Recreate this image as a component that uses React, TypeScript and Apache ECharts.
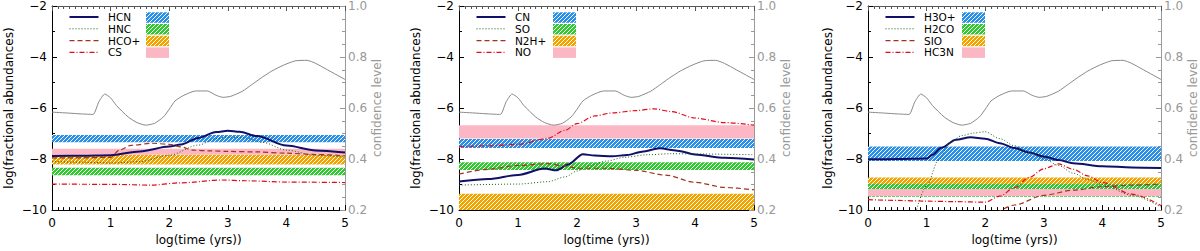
import React, { useEffect, useRef } from 'react';
import * as echarts from 'echarts';

// ---------------- data ----------------
const X_MIN = 0;
const X_MAX = 5;
const Y_MIN = -10;
const Y_MAX = -2;
const CONF_MIN = 0.2;
const CONF_MAX = 1.0;

// confidence level curve (right axis), identical in all three panels
const CONFIDENCE: [number, number][] = [
  [0, 0.584], [0.3, 0.58], [0.5, 0.577], [0.7, 0.575], [0.8, 0.625], [0.9, 0.655],
  [1.0, 0.64], [1.1, 0.61], [1.3, 0.565], [1.45, 0.543], [1.6, 0.533], [1.75, 0.54],
  [1.9, 0.565], [2.0, 0.595], [2.1, 0.628], [2.25, 0.65], [2.45, 0.667], [2.65, 0.667],
  [2.8, 0.65], [2.92, 0.642], [3.05, 0.646], [3.25, 0.666], [3.4, 0.69], [3.55, 0.715],
  [3.75, 0.745], [3.95, 0.768], [4.15, 0.785], [4.35, 0.787], [4.5, 0.775], [4.7, 0.75],
  [5.0, 0.712],
];

// Panel 1
const P1_NAMES = ['HCN', 'HNC', 'HCO+', 'CS'];
const HCN: [number, number][] = [
  [0, -7.88], [0.5, -7.87], [1, -7.85], [1.5, -7.7], [2, -7.51], [2.2, -7.43], [2.5, -7.17],
  [2.8, -6.94], [3, -6.89], [3.2, -6.93], [3.5, -7.1], [4, -7.47], [4.5, -7.66], [5, -7.74],
];
const HNC: [number, number][] = [
  [0, -8.1], [0.5, -8.12], [1, -8.15], [1.5, -8.1], [2, -7.85], [2.5, -7.45], [2.8, -7.2],
  [3, -7.14], [3.3, -7.17], [3.6, -7.35], [4, -7.65], [4.5, -7.85], [5, -7.92],
];
const HCO_PLUS: [number, number][] = [
  [0, -7.95], [0.5, -7.95], [1.0, -7.93], [1.15, -7.65], [1.35, -7.46], [1.7, -7.38],
  [2.0, -7.42], [2.2, -7.52], [2.4, -7.65], [2.7, -7.68], [3, -7.7], [3.5, -7.72],
  [4, -7.77], [4.5, -7.82], [5, -7.87],
];
const CS: [number, number][] = [
  [0, -8.98], [1, -8.99], [1.7, -9.02], [2.2, -8.93], [2.9, -8.82], [3.3, -8.85],
  [4, -8.9], [5, -8.92],
];
// observed bands [top, bottom] in legend order: blue, green, orange, pink
const P1_BANDS: [number, number][] = [[-7.06, -7.34], [-8.34, -8.63], [-7.83, -8.21], [-7.6, -7.83]];

// Panel 2
const P2_NAMES = ['CN', 'SO', 'N2H+', 'NO'];
const CN: [number, number][] = [
  [0, -8.88], [0.5, -8.78], [1, -8.62], [1.45, -8.37], [1.65, -8.44], [1.85, -8.21],
  [2.1, -7.81], [2.3, -7.86], [2.6, -7.89], [2.85, -7.84], [3.1, -7.71], [3.4, -7.58],
  [3.7, -7.67], [4, -7.82], [4.5, -7.95], [5, -8.02],
];
const SO: [number, number][] = [
  [0, -9.02], [1, -8.98], [1.5, -8.89], [1.8, -8.7], [2.0, -8.47], [2.2, -8.27],
  [2.5, -8.08], [2.8, -7.93], [3.2, -7.83], [3.6, -7.79], [4, -7.8], [5, -7.83],
];
const N2H_PLUS: [number, number][] = [
  [0, -8.59], [0.5, -8.4], [1.0, -8.25], [1.5, -8.18], [1.8, -8.27], [2.0, -8.36],
  [2.5, -8.36], [3.0, -8.44], [3.5, -8.63], [4.0, -8.91], [4.5, -9.11], [5, -9.21],
];
const NO: [number, number][] = [
  [0, -7.51], [0.5, -7.48], [1.0, -7.42], [1.5, -7.19], [1.8, -6.87], [2.0, -6.61],
  [2.3, -6.31], [2.6, -6.19], [3.0, -6.1], [3.3, -6.03], [3.6, -6.14], [4.0, -6.39],
  [4.5, -6.57], [5, -6.67],
];
const P2_BANDS: [number, number][] = [[-7.21, -7.57], [-8.12, -8.43], [-9.36, -10], [-6.67, -7.19]];

// Panel 3
const P3_NAMES = ['H3O+', 'H2CO', 'SIO', 'HC3N'];
const H3O_PLUS: [number, number][] = [
  [0, -8.01], [0.5, -8.0], [1.0, -7.98], [1.1, -7.83], [1.25, -7.56], [1.5, -7.24],
  [1.75, -7.14], [2.0, -7.2], [2.25, -7.38], [2.5, -7.57], [2.75, -7.74], [3.0, -7.9],
  [3.25, -8.04], [3.5, -8.16], [4, -8.28], [4.5, -8.33], [5, -8.35],
];
const H2CO: [number, number][] = [
  [0.8, -10.2], [1.0, -9.05], [1.2, -8.05], [1.4, -7.35], [1.6, -7.08], [1.8, -6.98],
  [2.0, -6.93], [2.25, -7.2], [2.5, -7.48], [2.75, -7.75], [3.0, -7.98], [3.25, -8.25],
  [3.5, -8.55], [3.75, -8.8], [4.0, -9.0], [4.5, -9.42], [5.0, -9.88],
];
const SIO: [number, number][] = [
  [2.2, -10.1], [2.5, -9.8], [3, -9.42], [3.5, -9.22], [4, -9.08], [4.5, -9.02], [5, -8.98],
];
const HC3N: [number, number][] = [
  [0, -9.59], [0.5, -9.62], [1, -9.65], [1.5, -9.67], [2, -9.69], [2.25, -9.45],
  [2.5, -9.12], [2.75, -8.72], [3, -8.38], [3.25, -8.19], [3.5, -8.4], [3.75, -8.66],
  [4, -8.92], [4.5, -9.37], [5, -9.82],
];
const P3_BANDS: [number, number][] = [[-7.51, -8.08], [-8.95, -9.48], [-8.72, -8.97], [-9.17, -9.45]];

const PANELS = [
  { names: P1_NAMES, data: [HCN, HNC, HCO_PLUS, CS], bands: P1_BANDS },
  { names: P2_NAMES, data: [CN, SO, N2H_PLUS, NO], bands: P2_BANDS },
  { names: P3_NAMES, data: [H3O_PLUS, H2CO, SIO, HC3N], bands: P3_BANDS },
];

// ---------------- layout / style ----------------
const FONT = 'DejaVu Sans, Verdana, sans-serif';
const GRID_LEFT = [52, 459, 868];
const GRID_WIDTH = [293, 295, 295];
const GRID_TOP = 5;
const GRID_HEIGHT = 208;
const Y_NAME_GAP = [37, 37, 34];

const LINE_STYLES = [
  { color: '#10106a', width: 2, type: 'solid' as any },
  { color: '#156015', width: 1, type: [1, 2] as any },
  { color: '#a0341e', width: 1.2, type: [5, 3] as any },
  { color: '#e30a1a', width: 1.2, type: [5, 2, 1, 2] as any },
];

function hatch(color: string): any {
  const n = 4;
  const c = document.createElement('canvas');
  c.width = n;
  c.height = n;
  const ctx = c.getContext('2d')!;
  ctx.fillStyle = color;
  ctx.fillRect(0, 0, n, n);
  ctx.strokeStyle = 'rgba(255,255,255,0.95)';
  ctx.lineWidth = 1;
  ctx.beginPath();
  ctx.moveTo(0, n);
  ctx.lineTo(n, 0);
  ctx.moveTo(-1, 1);
  ctx.lineTo(1, -1);
  ctx.moveTo(n - 1, n + 1);
  ctx.lineTo(n + 1, n - 1);
  ctx.stroke();
  return { image: c.toDataURL(), repeat: 'repeat', imageWidth: n, imageHeight: n };
}

function buildOption() {
  const bandFills = [hatch('#2b8fe6'), hatch('#35c635'), hatch('#f0a400'), '#fbb8c4'];
  const grid: any[] = [];
  const xAxis: any[] = [];
  const yAxis: any[] = [];
  const series: any[] = [];
  const graphic: any[] = [];

  PANELS.forEach((panel, p) => {
    grid.push({ left: GRID_LEFT[p], top: GRID_TOP, width: GRID_WIDTH[p], height: GRID_HEIGHT, containLabel: false });
    xAxis.push({
      gridIndex: p, type: 'value', position: 'bottom', min: X_MIN, max: X_MAX, interval: 1,
      axisLine: { show: true, onZero: false, lineStyle: { color: '#000', width: 1 } },
      axisTick: { show: true, inside: true, length: 5, lineStyle: { color: '#000' } },
      minorTick: { show: true, splitNumber: 10, length: 3, lineStyle: { color: '#000' } },
      splitLine: { show: false },
      axisLabel: { color: '#000', fontSize: 12, fontFamily: FONT, margin: 7 },
      name: 'log(time (yrs))', nameLocation: 'middle', nameGap: 22,
      nameTextStyle: { color: '#000', fontSize: 12, fontFamily: FONT },
    });
    xAxis.push({
      gridIndex: p, type: 'value', position: 'top', min: X_MIN, max: X_MAX, interval: 1,
      axisLine: { show: true, onZero: false, lineStyle: { color: '#555', width: 1 } },
      axisTick: { show: true, inside: true, length: 5, lineStyle: { color: '#555' } },
      minorTick: { show: true, splitNumber: 10, length: 3, lineStyle: { color: '#555' } },
      splitLine: { show: false },
      axisLabel: { show: false },
    });
    yAxis.push({
      gridIndex: p, type: 'value', position: 'left', min: Y_MIN, max: Y_MAX, interval: 2,
      axisLine: { show: true, onZero: false, lineStyle: { color: '#000', width: 1 } },
      axisTick: { show: true, inside: true, length: 5, lineStyle: { color: '#000' } },
      minorTick: { show: true, splitNumber: 2, length: 3, lineStyle: { color: '#000' } },
      splitLine: { show: false },
      axisLabel: {
        color: '#000', fontSize: 12, fontFamily: FONT, margin: 5,
        formatter: (v: number) => String(v).replace('-', '\u2212'),
      },
      name: 'log(fractional abundances)', nameLocation: 'middle', nameGap: Y_NAME_GAP[p],
      nameTextStyle: { color: '#000', fontSize: 12, fontFamily: FONT },
    });
    yAxis.push({
      gridIndex: p, type: 'value', position: 'right', min: CONF_MIN, max: CONF_MAX, interval: 0.2,
      axisLine: { show: true, onZero: false, lineStyle: { color: '#999', width: 1 } },
      axisTick: { show: true, inside: true, length: 5, lineStyle: { color: '#999' } },
      minorTick: { show: true, splitNumber: 4, length: 3, lineStyle: { color: '#999' } },
      splitLine: { show: false },
      axisLabel: {
        color: '#999', fontSize: 12, fontFamily: FONT, margin: 3,
        formatter: (v: number) => v.toFixed(1),
      },
      name: 'confidence level', nameLocation: 'middle', nameGap: 26, nameRotate: 90,
      nameTextStyle: { color: '#999', fontSize: 12, fontFamily: FONT },
    });

    const xb = p * 2;
    const yl = p * 2;
    const yr = p * 2 + 1;

    series.push({
      type: 'line', name: 'confidence level', xAxisIndex: xb, yAxisIndex: yr,
      data: CONFIDENCE, symbol: 'none', smooth: 0.2, silent: true, z: 2,
      lineStyle: { color: '#888', width: 1 },
    });

    panel.names.forEach((name, i) => {
      const s: any = {
        type: 'line', name, xAxisIndex: xb, yAxisIndex: yl, data: panel.data[i],
        symbol: 'none', smooth: 0.3, smoothMonotone: 'x', silent: true, z: 3 + i,
        lineStyle: { ...LINE_STYLES[i] },
      };
      if (i === 0) {
        s.markArea = {
          silent: true,
          z: 1,
          data: panel.bands.map((b, k) => [
            { yAxis: b[0], itemStyle: { color: bandFills[k], opacity: 1, borderWidth: 0 } },
            { yAxis: b[1] },
          ]),
        };
      }
      series.push(s);
    });

    // legend
    const L = GRID_LEFT[p];
    panel.names.forEach((name, i) => {
      const y = 17 + i * 11.8;
      const ls = LINE_STYLES[i];
      graphic.push({
        type: 'line', silent: true, z: 10,
        shape: { x1: L + 17.5, y1: y, x2: L + 46.5, y2: y },
        style: { stroke: ls.color, lineWidth: ls.width, lineDash: Array.isArray(ls.type) ? ls.type : null },
      });
      graphic.push({
        type: 'text', silent: true, z: 10, x: L + 56, y,
        style: { text: name, fill: '#000', fontSize: 10.5, fontFamily: FONT, verticalAlign: 'middle', align: 'left' },
      });
      graphic.push({
        type: 'rect', silent: true, z: 10,
        shape: { x: L + 94, y: 12.3 + i * 11.7, width: 23, height: 10.5 },
        style: { fill: bandFills[i] },
      });
    });
  });

  return { animation: false, backgroundColor: '#fff', grid, xAxis, yAxis, series, graphic };
}

export default function App() {
  const ref = useRef<HTMLDivElement>(null);
  useEffect(() => {
    if (!ref.current) return;
    const chart = echarts.init(ref.current, undefined, { renderer: 'svg' });
    chart.setOption(buildOption() as any);
    return () => chart.dispose();
  }, []);
  return (
    <div
      ref={ref}
      style={{ position: 'fixed', left: 0, top: 0, width: 1200, height: 251, background: '#fff' }}
    />
  );
}
